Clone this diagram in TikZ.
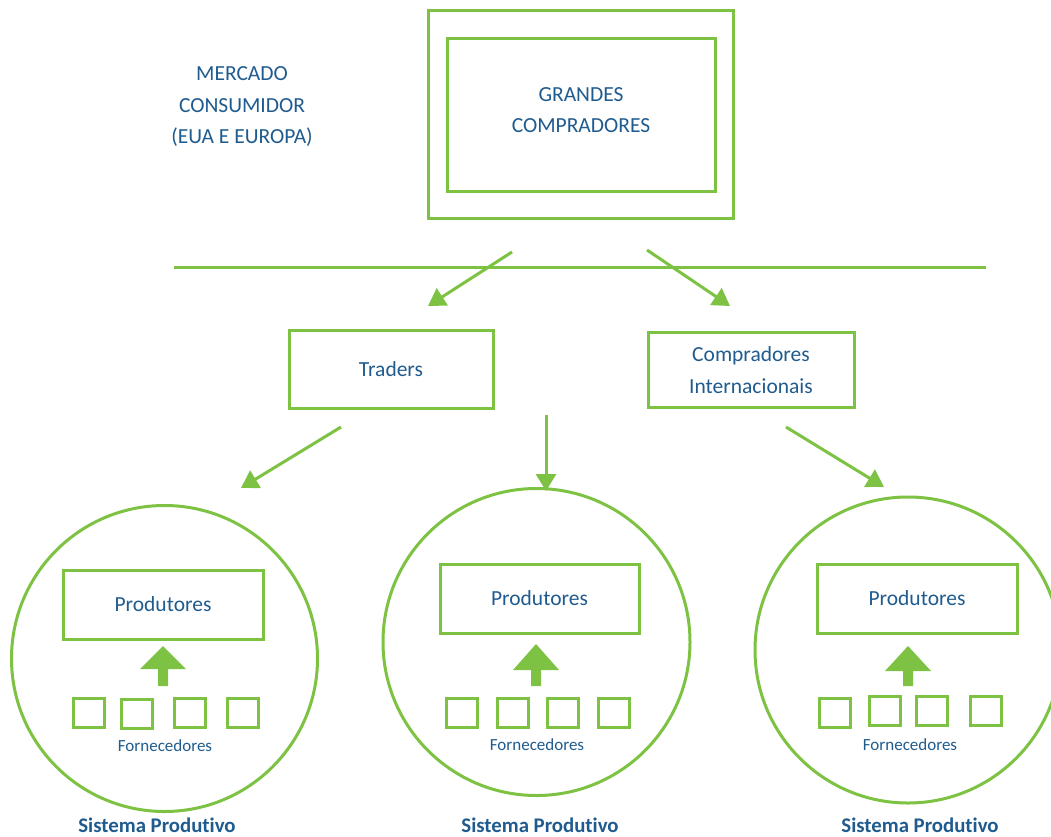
\documentclass[tikz,border=0pt]{standalone}
\usepackage{fontspec}
\setmainfont{Carlito}[Ligatures=NoCommon]
\usetikzlibrary{arrows.meta}
\definecolor{lgreen}{HTML}{7DC242}
\definecolor{dblue}{HTML}{1F5B8E}
\begin{document}
\begin{tikzpicture}[x=1pt,y=-1pt,
  box/.style={draw=lgreen,line width=3pt,inner sep=0pt,text=dblue,font=\fontsize{21.5}{31.5}\selectfont,align=center},
  lbl/.style={text=dblue,font=\fontsize{21.5}{31.5}\selectfont,align=center,inner sep=0pt},
  ring/.style={draw=lgreen,line width=3pt,circle,inner sep=0pt},
  sq/.style={draw=lgreen,line width=3pt,inner sep=0pt,minimum width=31pt,minimum height=29pt},
  conn/.style={draw=lgreen,line width=3pt,-{Triangle[length=17pt,width=20pt]}},
  small/.style={text=dblue,font=\fontsize{17}{20}\selectfont,inner sep=0pt},
  caption/.style={text=dblue,font=\fontsize{20.8}{24}\selectfont\bfseries,inner sep=0pt}]
\useasboundingbox (0,0) rectangle (1051,836);
% top
\node[lbl] (mercado) at (242,107) {MERCADO\\CONSUMIDOR\\(EUA E EUROPA)};
\node[box,minimum width=305pt,minimum height=208pt] (outer) at (580.5,114) {};
\node[box,minimum width=268pt,minimum height=153pt] (gc) at (581,114.5) {};
\node[lbl] (gctext) at (581,110) {GRANDES\\COMPRADORES};
\coordinate (hl) at (174,267);
\coordinate (hr) at (986,267);
\draw[draw=lgreen,line width=3pt] (hl) -- (hr);
% middle boxes
\node[box,minimum width=204pt,minimum height=78pt] (traders) at (391,369) {Traders};
\node[box,minimum width=206pt,minimum height=75pt] (ci) at (751,370) {Compradores\\Internacionais};
\coordinate (a1s) at (512,252); \coordinate (a1e) at (428,306);
\coordinate (a2s) at (647,250); \coordinate (a2e) at (730,306);
\draw[conn] (a1s) -- (a1e);
\draw[conn] (a2s) -- (a2e);
\coordinate (b1s) at (341,427); \coordinate (b1e) at (241,488);
\coordinate (b2s) at (546,415); \coordinate (b2e) at (546,491);
\coordinate (b3s) at (786,427); \coordinate (b3e) at (884,487);
\draw[conn] (b1s) -- (b1e);
\draw[conn] (b2s) -- (b2e);
\draw[conn] (b3s) -- (b3e);
% circles
\node[ring,minimum size=306pt] (c1) at (164.5,658.5) {};
\node[ring,minimum size=307pt] (c2) at (536.5,642) {};
\node[ring,minimum size=306pt] (c3) at (908,650) {};
% produtores
\node[box,minimum width=200pt,minimum height=69pt] (p1) at (163,604.5) {Produtores};
\node[box,minimum width=199pt,minimum height=69pt] (p2) at (539.5,598.5) {Produtores};
\node[box,minimum width=200pt,minimum height=69pt] (p3) at (917,598.5) {Produtores};
% up arrows
\fill[lgreen] (163,646) -- (186,669) -- (168,669) -- (168,686) -- (158,686) -- (158,669) -- (140,669) -- cycle;
\fill[lgreen] (536,644) -- (559,670) -- (541,670) -- (541,686) -- (531,686) -- (531,670) -- (513,670) -- cycle;
\fill[lgreen] (908,646) -- (931,671) -- (913,671) -- (913,686) -- (903,686) -- (903,671) -- (885,671) -- cycle;
% squares
\node[sq] (s11) at (88.5,712.5) {};
\node[sq] (s12) at (136.5,713.5) {};
\node[sq] (s13) at (189.5,712.5) {};
\node[sq] (s14) at (242.5,713) {};
\node[sq] (s21) at (461.5,712.5) {};
\node[sq] (s22) at (512.5,712.5) {};
\node[sq] (s23) at (562.5,712.5) {};
\node[sq] (s24) at (613.5,712.5) {};
\node[sq] (s31) at (834.5,713) {};
\node[sq] (s32) at (885,710.5) {};
\node[sq] (s33) at (931.5,710.5) {};
\node[sq] (s34) at (986,710.5) {};
% labels
\node[small] (f1) at (165,746) {Fornecedores};
\node[small] (f2) at (537,745) {Fornecedores};
\node[small] (f3) at (910,745) {Fornecedores};
\node[caption] (sp1) at (157,825) {Sistema Produtivo};
\node[caption] (sp2) at (540,825) {Sistema Produtivo};
\node[caption] (sp3) at (920,825) {Sistema Produtivo};
\end{tikzpicture}
\end{document}
